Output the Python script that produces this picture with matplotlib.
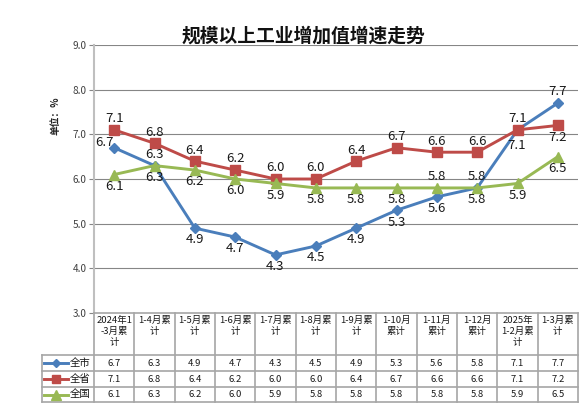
import matplotlib
matplotlib.use("Agg")
import matplotlib.pyplot as plt

plt.rcParams['font.family'] = ['Noto Sans CJK SC', 'DejaVu Sans']

categories = ["2024年1\n-3月累\n计", "1-4月累\n计", "1-5月累\n计", "1-6月累\n计",
              "1-7月累\n计", "1-8月累\n计", "1-9月累\n计", "1-10月\n累计",
              "1-11月\n累计", "1-12月\n累计", "2025年\n1-2月累\n计", "1-3月累\n计"]
series_names = ["全市", "全省", "全国"]
city = [6.7, 6.3, 4.9, 4.7, 4.3, 4.5, 4.9, 5.3, 5.6, 5.8, 7.1, 7.7]
province = [7.1, 6.8, 6.4, 6.2, 6.0, 6.0, 6.4, 6.7, 6.6, 6.6, 7.1, 7.2]
nation = [6.1, 6.3, 6.2, 6.0, 5.9, 5.8, 5.8, 5.8, 5.8, 5.8, 5.9, 6.5]
yticks = [3.0, 4.0, 5.0, 6.0, 7.0, 8.0, 9.0]
title = "规模以上工业增加值增速走势"
ylabel = "单位：%"

colors = ['#4A7EBB', '#BE4B48', '#98B954']
markers = ['D', 's', '^']
msizes = [5, 6.5, 7.5]
# label placement per point: a=above, b=below, l=left-above, B=further below
label_pos = [
    ['l', 'a', 'b', 'b', 'b', 'b', 'b', 'b', 'b', 'b', 'B', 'a'],
    ['a'] * 11 + ['b'],
    ['b'] * 8 + ['a', 'a', 'b', 'b'],
]
offsets = {'a': (0, 8), 'b': (0, -8.5), 'l': (-7, 3.5), 'B': (-1, -11)}

W, H = 587, 417
fig = plt.figure(figsize=(W / 100, H / 100), dpi=100)
x_left, x_right, y_top, y_bot = 94, 578, 45, 313
ax = fig.add_axes([x_left / W, 1 - y_bot / H, (x_right - x_left) / W, (y_bot - y_top) / H])
n = len(categories)
xs = list(range(n))
ax.set_xlim(-0.5, n - 0.5)
ax.set_ylim(yticks[0], yticks[-1])
ax.set_yticks(yticks)
ax.set_yticklabels([f"{v:.1f}" for v in yticks], fontsize=7.2, color='#404040')
ax.set_xticks([])
for s in ['top', 'right', 'bottom']:
    ax.spines[s].set_visible(False)
ax.spines['left'].set_color('#BFBFBF')
ax.spines['left'].set_linewidth(1.5)
ax.tick_params(axis='y', direction='out', length=3.5, color='#868686', width=0.8, pad=2)
for v in yticks[1:]:
    ax.axhline(v, color='#868686', lw=0.8, zorder=0)

data = [city, province, nation]
for i, vals in enumerate(data):
    ax.plot(xs, vals, color=colors[i], lw=2.1, marker=markers[i], ms=msizes[i],
            zorder=3, clip_on=False)
    for j, v in enumerate(vals):
        dx, dy = offsets[label_pos[i][j]]
        ax.annotate(f"{v:.1f}", (j, v), textcoords='offset points', xytext=(dx, dy),
                    ha='center', va='center', fontsize=9.5, color='#1a1a1a', zorder=4)

fig.text(303 / W, 1 - 36.5 / H, title, ha='center', va='center', fontsize=13.5,
         fontweight='bold', color='#111111')
fig.text(55 / W, 1 - 116 / H, ylabel, ha='center', va='center', rotation=90,
         fontsize=7, fontweight='bold', color='#222222')

# data table
tbl_left, tbl_bot = 42, 402
tax = fig.add_axes([tbl_left / W, 1 - tbl_bot / H, (x_right - tbl_left) / W, (tbl_bot - y_bot) / H])
colw = (x_right - x_left) / n
xl = -0.5 - (x_left - tbl_left) / colw
tax.set_xlim(xl, n - 0.5)
tax.set_ylim(tbl_bot, y_bot)
tax.axis('off')
rows_y = [313, 355, 371, 387, 402]
lc, lw = '#A6A6A6', 1.2
tax.plot([-0.5, n - 0.5], [rows_y[0]] * 2, color=lc, lw=lw, clip_on=False)
for yy in rows_y[1:]:
    tax.plot([xl, n - 0.5], [yy, yy], color=lc, lw=lw, clip_on=False)
for k in range(n + 1):
    tax.plot([-0.5 + k] * 2, [rows_y[0], rows_y[-1]], color=lc, lw=lw, clip_on=False)
tax.plot([xl] * 2, [rows_y[1], rows_y[-1]], color=lc, lw=lw, clip_on=False)

for j, c in enumerate(categories):
    tax.text(j, 316, c, ha='center', va='top', fontsize=6.8, linespacing=1.3, color='#1a1a1a')
for i, vals in enumerate(data):
    yc = (rows_y[i + 1] + rows_y[i + 2]) / 2
    for j, v in enumerate(vals):
        tax.text(j, yc, f"{v:.1f}", ha='center', va='center', fontsize=6.8, color='#1a1a1a')
    lx0 = xl + 2 / colw
    lx1 = xl + 26 / colw
    tax.plot([lx0, lx1], [yc, yc], color=colors[i], lw=2.1, clip_on=False)
    tax.plot([(lx0 + lx1) / 2], [yc], color=colors[i], marker=markers[i],
             ms=msizes[i] - 1, clip_on=False)
    tax.text(xl + 28 / colw, yc, series_names[i], ha='left', va='center', fontsize=7.5,
             color='#1a1a1a')

fig.savefig('out.png', dpi=100)
